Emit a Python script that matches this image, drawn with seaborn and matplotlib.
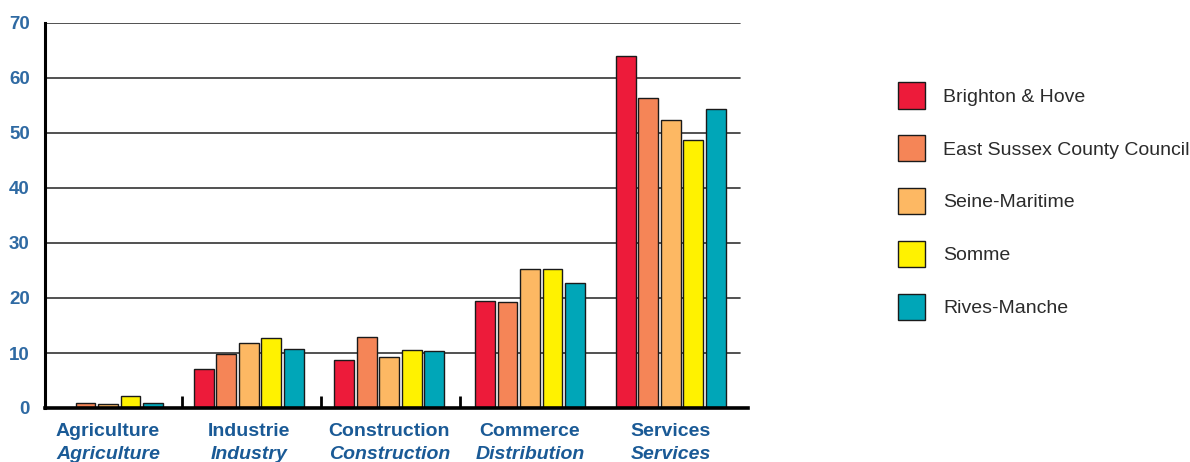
import matplotlib
matplotlib.use("Agg")
import matplotlib.pyplot as plt
import matplotlib.transforms as mtransforms
import seaborn as sns
import pandas as pd

# Employment share by sector (%)
sectors_fr = ["Agriculture", "Industrie", "Construction", "Commerce", "Services"]
sectors_en = ["Agriculture", "Industry", "Construction", "Distribution", "Services"]
areas = ["Brighton & Hove", "East Sussex County Council", "Seine-Maritime",
         "Somme", "Rives-Manche"]

brighton = [0.0, 7.1, 8.8, 19.4, 64.0]
east_sussex = [1.0, 9.9, 12.9, 19.2, 56.3]
seine_maritime = [0.8, 11.8, 9.3, 25.2, 52.3]
somme = [2.2, 12.7, 10.5, 25.2, 48.7]
rives_manche = [1.0, 10.8, 10.4, 22.8, 54.3]

y_ticks = [0, 10, 20, 30, 40, 50, 60, 70]

colors = ["#ED1B3A", "#F58557", "#FDB863", "#FFF200", "#00A6B8"]

series = [brighton, east_sussex, seine_maritime, somme, rives_manche]
rows = []
for area, vals in zip(areas, series):
    for sec, v in zip(sectors_fr, vals):
        rows.append({"sector": sec, "area": area, "value": v})
df = pd.DataFrame(rows)

sns.set_theme(style="white")
plt.rcParams["font.family"] = ["Liberation Sans", "DejaVu Sans"]

fig = plt.figure(figsize=(11.9, 4.62), dpi=100)
ax = fig.add_axes([45 / 1190, 54 / 462, 703 / 1190, 385 / 462])

sns.barplot(data=df, x="sector", y="value", hue="area", order=sectors_fr,
            hue_order=areas, palette=colors, width=0.8, gap=0.12,
            edgecolor="#1a1a1a", linewidth=1.0, saturation=1.0,
            errorbar=None, legend=True, ax=ax, zorder=3)

ax.set_xlim(-0.448, 4.55)
ax.set_ylim(0, 70)

# horizontal rules
for t in y_ticks[1:]:
    ax.axhline(t, xmin=0, xmax=0.989, color="#333333", lw=1.2, zorder=1)

# spines
for s in ["top", "right"]:
    ax.spines[s].set_visible(False)
ax.spines["left"].set_linewidth(2.2)
ax.spines["left"].set_color("black")
ax.spines["bottom"].set_linewidth(2.6)
ax.spines["bottom"].set_color("black")
ax.spines["left"].set_zorder(5)
ax.spines["bottom"].set_zorder(5)

# small group separators on the baseline
ax.vlines([0.525, 1.515, 2.505], 0, 2.2, color="black", lw=2.0, zorder=4)

ax.set_yticks(y_ticks)
ax.set_yticklabels([str(t) for t in y_ticks])
ax.tick_params(axis="y", direction="in", length=12.5, width=1.6, color="black",
               pad=11, labelsize=13.5, labelcolor="#2F6AA3")
for lab in ax.get_yticklabels():
    lab.set_fontweight("bold")

ax.set_xticks([])
ax.set_xlabel("")
ax.set_ylabel("")

trans = mtransforms.blended_transform_factory(ax.transData, ax.transAxes)
for i, (fr, en) in enumerate(zip(sectors_fr, sectors_en)):
    ax.text(i, -0.062, fr, transform=trans, ha="center", va="center",
            fontsize=14, fontweight="bold", color="#1A5A96", clip_on=False)
    ax.text(i, -0.12, en, transform=trans, ha="center", va="center",
            fontsize=14, fontweight="bold", fontstyle="italic", color="#1A5A96",
            clip_on=False)

handles, labels = ax.get_legend_handles_labels()
ax.get_legend().remove()
leg = fig.legend(handles, labels, loc="upper left",
                 bbox_to_anchor=(898 / 1190, 1 - 82 / 462),
                 frameon=False, fontsize=14, handlelength=1.4, handleheight=1.72,
                 labelspacing=1.36, handletextpad=0.93, borderpad=0,
                 borderaxespad=0)
for txt in leg.get_texts():
    txt.set_color("#2b2b2b")

fig.savefig("out.png", dpi=100)
